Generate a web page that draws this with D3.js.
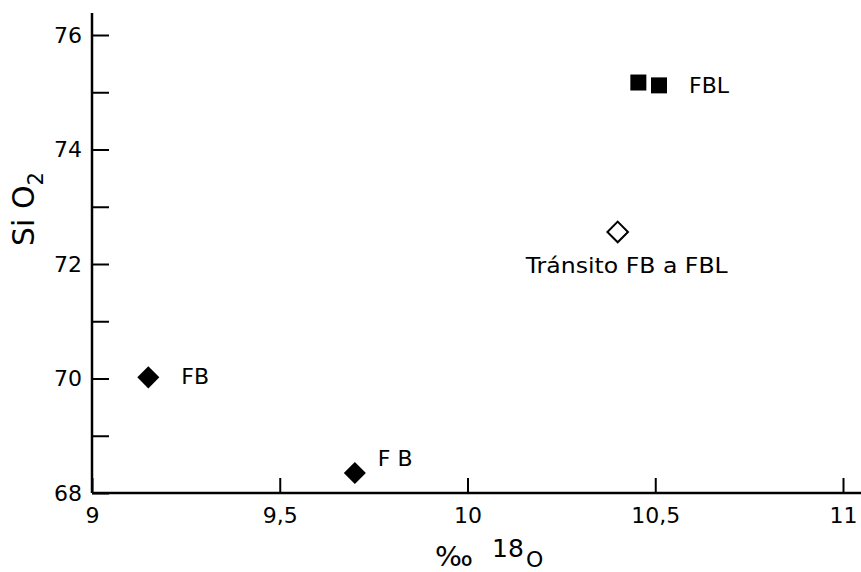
<!DOCTYPE html>
<html>
<head>
<meta charset="utf-8">
<script src="https://cdn.jsdelivr.net/npm/d3@7"></script>
<style>
    body { margin: 0; background: #fff; }
    text { font-family: "DejaVu Sans", sans-serif; fill: #000; }
</style>
</head>
<body>
<svg></svg>
<script>
// значения с картинки
const xTicks = [9, 9.5, 10, 10.5, 11];
const yTicks = [68, 69, 70, 71, 72, 73, 74, 75, 76];

// FB - закрашенные ромбы
const fbX = [9.15, 9.70];
const fbY = [70.02, 68.35];
const fbLabels = ["FB", "F B"];

// FBL - закрашенные квадраты
const fblX = [10.455, 10.51];
const fblY = [75.17, 75.12];
const fblLabel = "FBL";

// переход - пустой ромб
const trX = [10.40];
const trY = [72.56];
const trLabel = "Tránsito FB a FBL";

document.addEventListener("DOMContentLoaded", function() {
    const width = 861;
    const height = 572;
    const svg = d3.select("svg")
        .attr("width", width)
        .attr("height", height);

    const x = d3.scaleLinear().domain([9, 11]).range([92, 843]);
    const y = d3.scaleLinear().domain([68, 76]).range([493, 35]);

    // оси
    const xAxis = d3.axisBottom(x)
        .tickValues(xTicks)
        .tickSizeInner(-15)
        .tickSizeOuter(0)
        .tickPadding(14)
        .tickFormat(d => String(d).replace(".", ","));

    const yAxis = d3.axisLeft(y)
        .tickValues(yTicks)
        .tickSizeInner(-17)
        .tickSizeOuter(0)
        .tickPadding(10)
        .tickFormat(d => d % 2 === 0 ? d : "");

    const gx = svg.append("g")
        .attr("transform", `translate(0,${y(68)})`)
        .call(xAxis);
    const gy = svg.append("g")
        .attr("transform", `translate(${x(9)},0)`)
        .call(yAxis);

    [gx, gy].forEach(g => {
        g.select(".domain").remove();
        g.selectAll(".tick line").attr("stroke", "#000").attr("stroke-width", 2);
        g.selectAll(".tick text")
            .style("font-family", "DejaVu Sans, sans-serif")
            .style("font-size", "22px")
            .attr("fill", "#000");
    });

    // линии осей (длиннее чем тики)
    svg.append("line")
        .attr("x1", x(9)).attr("x2", 861)
        .attr("y1", y(68)).attr("y2", y(68))
        .attr("stroke", "#000").attr("stroke-width", 2.5);
    svg.append("line")
        .attr("x1", x(9)).attr("x2", x(9))
        .attr("y1", y(68)).attr("y2", 13)
        .attr("stroke", "#000").attr("stroke-width", 2.5);

    // ромбы FB
    svg.selectAll(".fb")
        .data(fbX)
        .enter().append("path")
        .attr("class", "fb")
        .attr("d", d3.symbol(d3.symbolDiamond2, 310))
        .attr("transform", (d, i) => `translate(${x(d)},${y(fbY[i])})`)
        .attr("fill", "#000");

    // квадраты FBL
    svg.selectAll(".fbl")
        .data(fblX)
        .enter().append("path")
        .attr("class", "fbl")
        .attr("d", d3.symbol(d3.symbolSquare, 256))
        .attr("transform", (d, i) => `translate(${x(d)},${y(fblY[i])})`)
        .attr("fill", "#000");

    // пустой ромб
    svg.selectAll(".tr")
        .data(trX)
        .enter().append("path")
        .attr("class", "tr")
        .attr("d", d3.symbol(d3.symbolDiamond2, 270))
        .attr("transform", (d, i) => `translate(${x(d)},${y(trY[i])})`)
        .attr("fill", "#fff")
        .attr("stroke", "#000")
        .attr("stroke-width", 2);

    // подписи
    svg.append("text")
        .attr("x", x(fbX[0]) + 33).attr("y", y(fbY[0]) + 7)
        .style("font-size", "22px")
        .text(fbLabels[0]);
    svg.append("text")
        .attr("x", x(fbX[1]) + 23).attr("y", y(fbY[1]) - 7)
        .style("font-size", "22px")
        .text(fbLabels[1]);
    svg.append("text")
        .attr("x", x(fblX[1]) + 30).attr("y", y(fblY[1]) + 8)
        .style("font-size", "22px")
        .text(fblLabel);
    svg.append("text")
        .attr("x", x(trX[0]) - 92).attr("y", y(trY[0]) + 41)
        .attr("textLength", 202)
        .attr("lengthAdjust", "spacingAndGlyphs")
        .style("font-size", "22px")
        .text(trLabel);

    // заголовок оси Y
    const yt = svg.append("text")
        .attr("transform", "translate(34,209) rotate(-90)")
        .attr("text-anchor", "middle")
        .style("font-size", "30px");
    yt.append("tspan").text("Si O");
    yt.append("tspan").attr("dy", 9).style("font-size", "21px").text("2");

    // заголовок оси X
    svg.append("text")
        .attr("x", 435).attr("y", 566)
        .attr("textLength", 38)
        .attr("lengthAdjust", "spacingAndGlyphs")
        .style("font-size", "27px")
        .text("‰");
    svg.append("text")
        .attr("x", 492).attr("y", 557)
        .style("font-size", "25px")
        .text("18");
    svg.append("text")
        .attr("x", 526).attr("y", 567)
        .style("font-size", "22px")
        .text("O");
});
</script>
</body>
</html>
